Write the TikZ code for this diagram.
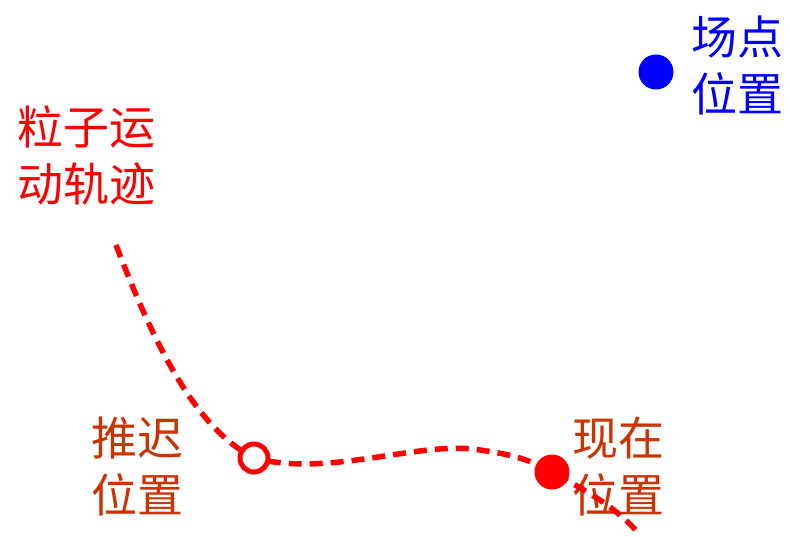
\documentclass[tikz,border=0pt]{standalone}
\usepackage{fontspec}
\newfontfamily\cjk{Noto Sans CJK SC}
\definecolor{trk}{RGB}{255,0,0}
\definecolor{lbl}{RGB}{204,51,0}
\definecolor{fld}{RGB}{0,0,255}
\tikzset{
  lab/.style={font=\cjk\fontsize{46}{57}\selectfont, align=left, inner sep=0pt},
  track/.style={trk, line width=5.5pt, dash pattern=on 13pt off 8pt},
}
\begin{document}
\begin{tikzpicture}[x=1pt,y=-1pt]
\useasboundingbox (0,0) rectangle (790,537);
\node[lab, text=fld] (t1) at (737,65) {场点\\位置};
\node[lab, text=trk] (t2) at (86,156) {粒子运\\动轨迹};
\node[lab, text=lbl] (t3) at (137,466) {推迟\\位置};
\node[lab, text=lbl] (t4) at (618,466) {现在\\位置};
\coordinate (s) at (116,245);
\coordinate (r) at (254,458);
\coordinate (m) at (480,450);
\coordinate (p) at (552,472);
\coordinate (e) at (640,535);
\draw[track] (s) .. controls (160,360) and (200,430) .. (r)
  .. controls (330,478) and (420,440) .. (m)
  .. controls (515,455) and (530,460) .. (p)
  .. controls (580,488) and (615,505) .. (e);
\node[circle, draw=trk, fill=white, line width=5pt, minimum size=28pt, inner sep=0pt] (ret) at (r) {};
\node[circle, fill=trk, minimum size=35pt, inner sep=0pt] (now) at (p) {};
\node[circle, fill=fld, minimum size=35pt, inner sep=0pt] (fp) at (656,72) {};
\end{tikzpicture}
\end{document}
